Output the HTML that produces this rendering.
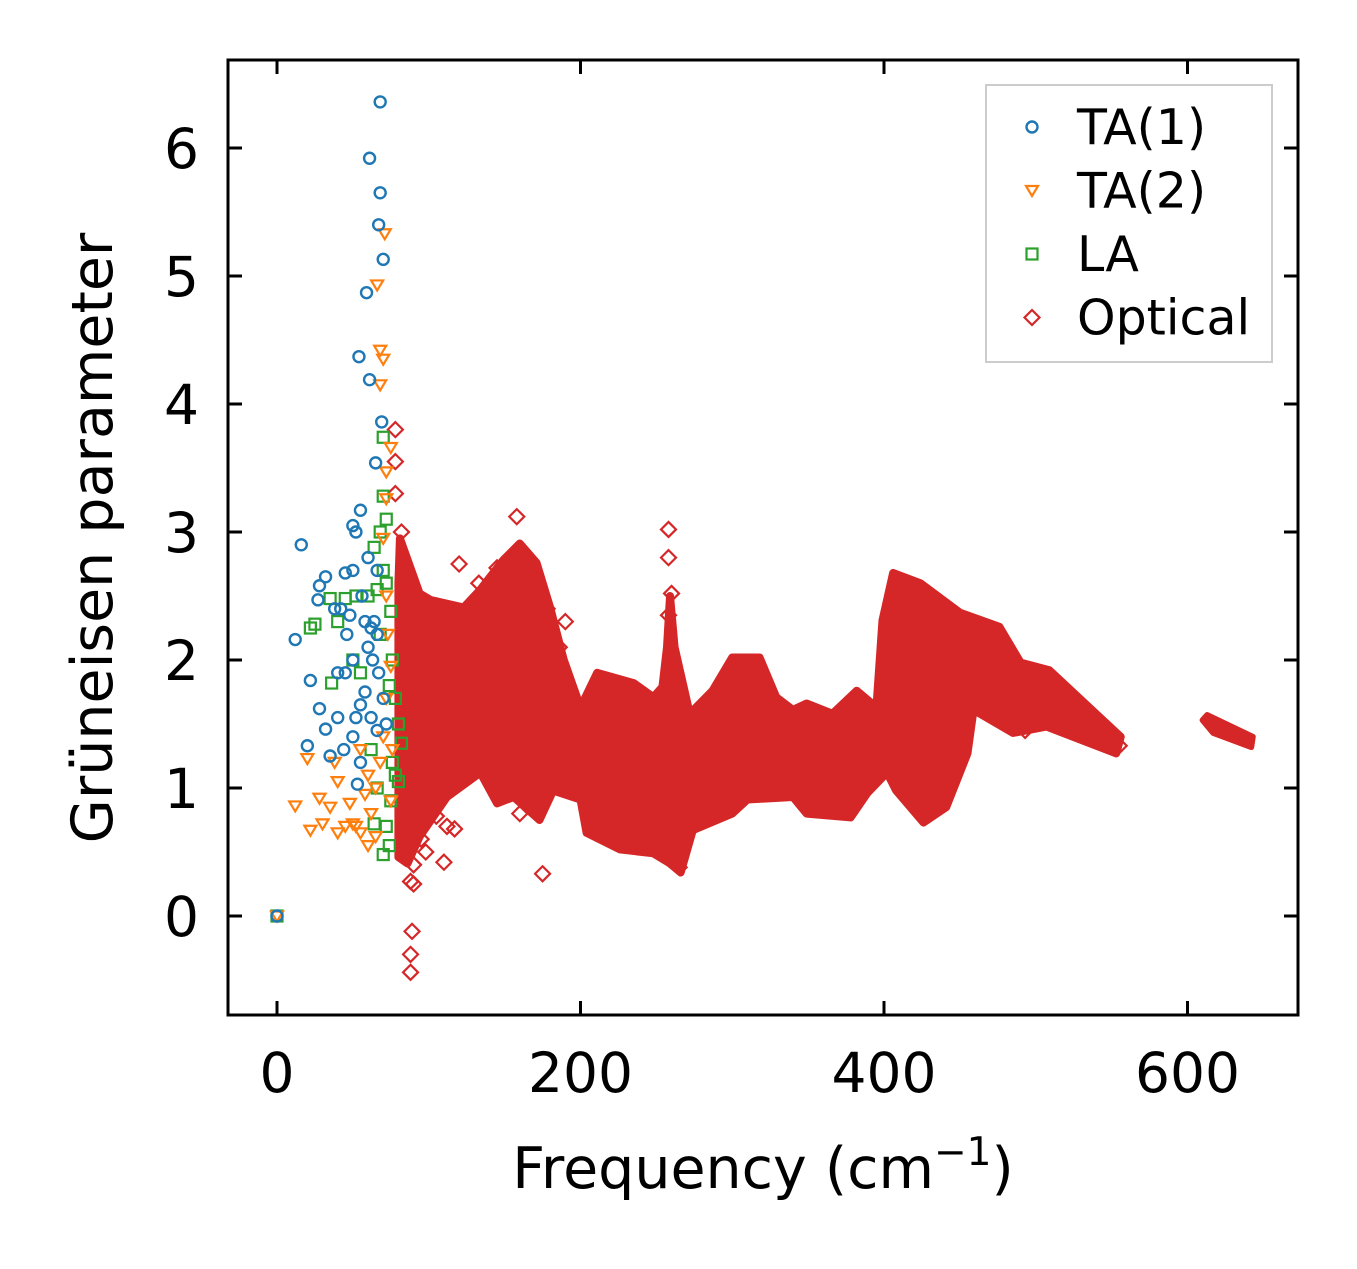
<!DOCTYPE html>
<html><head><meta charset="utf-8"><style>
body{margin:0;background:#fff}
svg text{font-family:"DejaVu Sans","Liberation Sans",sans-serif;fill:#000}
</style></head><body>
<svg id="chart" width="1357" height="1264" viewBox="0 0 1357 1264" xmlns="http://www.w3.org/2000/svg">
<rect width="1357" height="1264" fill="#fff"/>
<g id="marks"></g>
<rect x="228" y="60" width="1070" height="955" fill="none" stroke="#000" stroke-width="3"/>
<g id="axes"></g>
<text x="763" y="1188" font-size="57" text-anchor="middle">Frequency (cm<tspan dy="-23" font-size="39">−1</tspan><tspan dy="23">)</tspan></text>
<text transform="translate(112,538) rotate(-90)" font-size="57" text-anchor="middle">Grüneisen parameter</text>
<g>
<rect x="986" y="85" width="286" height="277" fill="#fff" stroke="#ccc" stroke-width="2"/>
<g id="legend"></g>
</g>
</svg>
<script>
const xTicks=[0,200,400,600];
const yTicks=[0,1,2,3,4,5,6];
const ta1=[[68,6.36],[61,5.92],[68,5.65],[67,5.4],[70,5.13],[59,4.87],[54,4.37],[61,4.19],[69,3.86],[65,3.54],[55,3.17],[50,3.05],[52,3.0],[16,2.9],[45,2.68],[50,2.7],[32,2.65],[28,2.58],[27,2.47],[38,2.4],[42,2.4],[12,2.16],[22,1.84],[28,1.62],[32,1.46],[20,1.33],[40,1.55],[44,1.3],[50,1.4],[55,1.2],[53,1.03],[60,2.1],[62,2.25],[64,2.3],[66,2.2],[58,1.75],[62,1.55],[66,1.45],[48,2.35],[56,2.5],[60,2.8],[66,2.7],[0,0],[35,1.25],[45,1.9],[50,2.0],[55,1.65],[70,1.7],[72,1.5],[58,2.3],[63,2.0],[67,1.9],[52,1.55],[46,2.2],[40,1.9]];
const ta2=[[71,5.33],[66,4.93],[68,4.42],[70,4.35],[68,4.15],[75,3.66],[72,3.47],[72,3.26],[70,2.95],[72,2.5],[20,1.23],[12,0.86],[22,0.67],[28,0.92],[30,0.72],[35,0.85],[40,0.65],[45,0.7],[48,0.88],[50,0.72],[55,0.65],[60,0.55],[62,0.8],[65,1.0],[68,1.2],[70,1.4],[72,1.7],[75,1.95],[40,1.05],[38,1.2],[55,1.3],[58,0.95],[65,0.62],[75,0.9],[0,0],[73,2.2],[76,1.3],[52,0.7],[60,1.1]];
const la=[[70,3.74],[70,3.28],[72,3.1],[68,3.0],[64,2.88],[70,2.7],[72,2.6],[66,2.55],[60,2.5],[52,2.5],[45,2.48],[35,2.48],[25,2.28],[22,2.25],[40,2.3],[50,2.0],[36,1.82],[55,1.9],[75,2.38],[76,2.0],[78,1.7],[80,1.5],[82,1.35],[76,1.2],[80,1.05],[75,0.9],[72,0.7],[70,0.48],[74,0.55],[64,0.72],[66,1.0],[62,1.3],[78,1.1],[0,0],[74,1.8],[68,2.2]];
const optOut=[[88,0.27],[90,0.25],[89,-0.12],[88,-0.3],[88,-0.44],[90,0.4],[110,0.42],[112,0.7],[120,2.75],[175,0.33],[258,3.02],[258,2.8],[260,2.52],[258,2.35],[265,0.38],[158,3.12],[190,2.3],[78,3.8],[78,3.55],[78,3.3],[95,0.6],[100,0.8],[493,1.45],[555,1.33],[290,0.8],[210,0.65],[82,3.0],[85,2.7],[133,2.6],[145,2.72],[165,2.6],[178,2.4],[186,2.1],[105,0.78],[117,0.68],[160,0.8],[98,0.5]];
const upFreq=[80,81,94,101,123,134,149,160,171,180,189,200,211,235,248,254,257,259,262,272,287,300,318,329,340,349,366,382,395,399,406,424,450,476,490,509,556];
const upVal=[2.6,2.95,2.52,2.47,2.41,2.55,2.78,2.91,2.76,2.41,2.0,1.63,1.9,1.82,1.71,1.79,2.1,2.5,2.1,1.58,1.76,2.02,2.02,1.71,1.61,1.66,1.58,1.76,1.63,2.31,2.68,2.6,2.37,2.26,1.98,1.92,1.40];
const lowFreq=[80,86,94,112,134,145,156,173,182,200,204,226,248,259,266,274,300,310,340,349,378,389,402,408,426,441,455,459,485,507,553];
const lowVal=[0.46,0.41,0.62,0.93,1.12,0.88,0.93,0.75,0.98,0.91,0.65,0.52,0.49,0.41,0.34,0.67,0.8,0.91,0.93,0.80,0.77,0.96,1.12,0.98,0.73,0.85,1.27,1.61,1.43,1.48,1.27];
const blobFreq=[610,613,643,642,617];
const blobVal=[1.53,1.57,1.40,1.32,1.43];

const X=v=>277+v*(303.5/200), Y=v=>916-v*128;
const NS='http://www.w3.org/2000/svg';
const marks=document.getElementById('marks'), axes=document.getElementById('axes');
function mk(tag,attrs,parent){const e=document.createElementNS(NS,tag);for(const k in attrs)e.setAttribute(k,attrs[k]);parent.appendChild(e);return e;}
xTicks.forEach(t=>{
 const g=mk('g',{},axes);
 
 
 mk('line',{x1:X(t),x2:X(t),y1:1015,y2:1001,stroke:'#000','stroke-width':3},g);
 mk('line',{x1:X(t),x2:X(t),y1:60,y2:74,stroke:'#000','stroke-width':3},g);
 const tx=mk('text',{x:X(t),y:1092,'font-size':55,'text-anchor':'middle'},g);tx.textContent=t;
});
yTicks.forEach(t=>{
 const g=mk('g',{},axes);
 
 
 mk('line',{x1:228,x2:242,y1:Y(t),y2:Y(t),stroke:'#000','stroke-width':3},g);
 mk('line',{x1:1298,x2:1284,y1:Y(t),y2:Y(t),stroke:'#000','stroke-width':3},g);
 const tx=mk('text',{x:199,y:Y(t)+20,'font-size':55,'text-anchor':'end'},g);tx.textContent=t;
});
const RED='#d62728';
let pts=upFreq.map((f,j)=>X(f)+','+Y(upVal[j]));
for(let j=lowFreq.length-1;j>=0;j--)pts.push(X(lowFreq[j])+','+Y(lowVal[j]));
const dense=mk('polygon',{points:pts.join(' '),fill:RED,stroke:RED,'stroke-width':8,'stroke-linejoin':'round'},marks);


const blob=mk('polygon',{points:blobFreq.map((f,j)=>X(f)+','+Y(blobVal[j])).join(' '),fill:RED,stroke:RED,'stroke-width':6,'stroke-linejoin':'round'},marks);


function diamond(x,y,c,p){return mk('polygon',{points:`${x},${y-7.5} ${x+7.5},${y} ${x},${y+7.5} ${x-7.5},${y}`,fill:'none',stroke:c,'stroke-width':2.2},p);}
function tri(x,y,c,p){return mk('polygon',{points:`${x-6},${y-4.5} ${x+6},${y-4.5} ${x},${y+5.5}`,fill:'none',stroke:c,'stroke-width':2.2},p);}
function sq(x,y,c,p){return mk('rect',{x:x-5.5,y:y-5.5,width:11,height:11,fill:'none',stroke:c,'stroke-width':2.2},p);}
function circ(x,y,c,p){return mk('circle',{cx:x,cy:y,r:5.5,fill:'none',stroke:c,'stroke-width':2.4},p);}
optOut.forEach(d=>{const e=diamond(X(d[0]),Y(d[1]),RED,marks);
 
 });
la.forEach(d=>{const e=sq(X(d[0]),Y(d[1]),'#2ca02c',marks);
 
 });
ta2.forEach(d=>{const e=tri(X(d[0]),Y(d[1]),'#ff7f0e',marks);
 
 });
ta1.forEach(d=>{const e=circ(X(d[0]),Y(d[1]),'#1f77b4',marks);
 
 });
const lg=document.getElementById('legend');
const entries=[['TA(1)',circ,'#1f77b4'],['TA(2)',tri,'#ff7f0e'],['LA',sq,'#2ca02c'],['Optical',diamond,RED]];
entries.forEach((en,i)=>{
 const y=127+i*63.5;
 const g=mk('g',{},lg);
 
 
 en[1](1032,y,en[2],g);
 const t=mk('text',{x:1077,y:y+17,'font-size':49},g);t.textContent=en[0];
});
</script>
</body></html>
